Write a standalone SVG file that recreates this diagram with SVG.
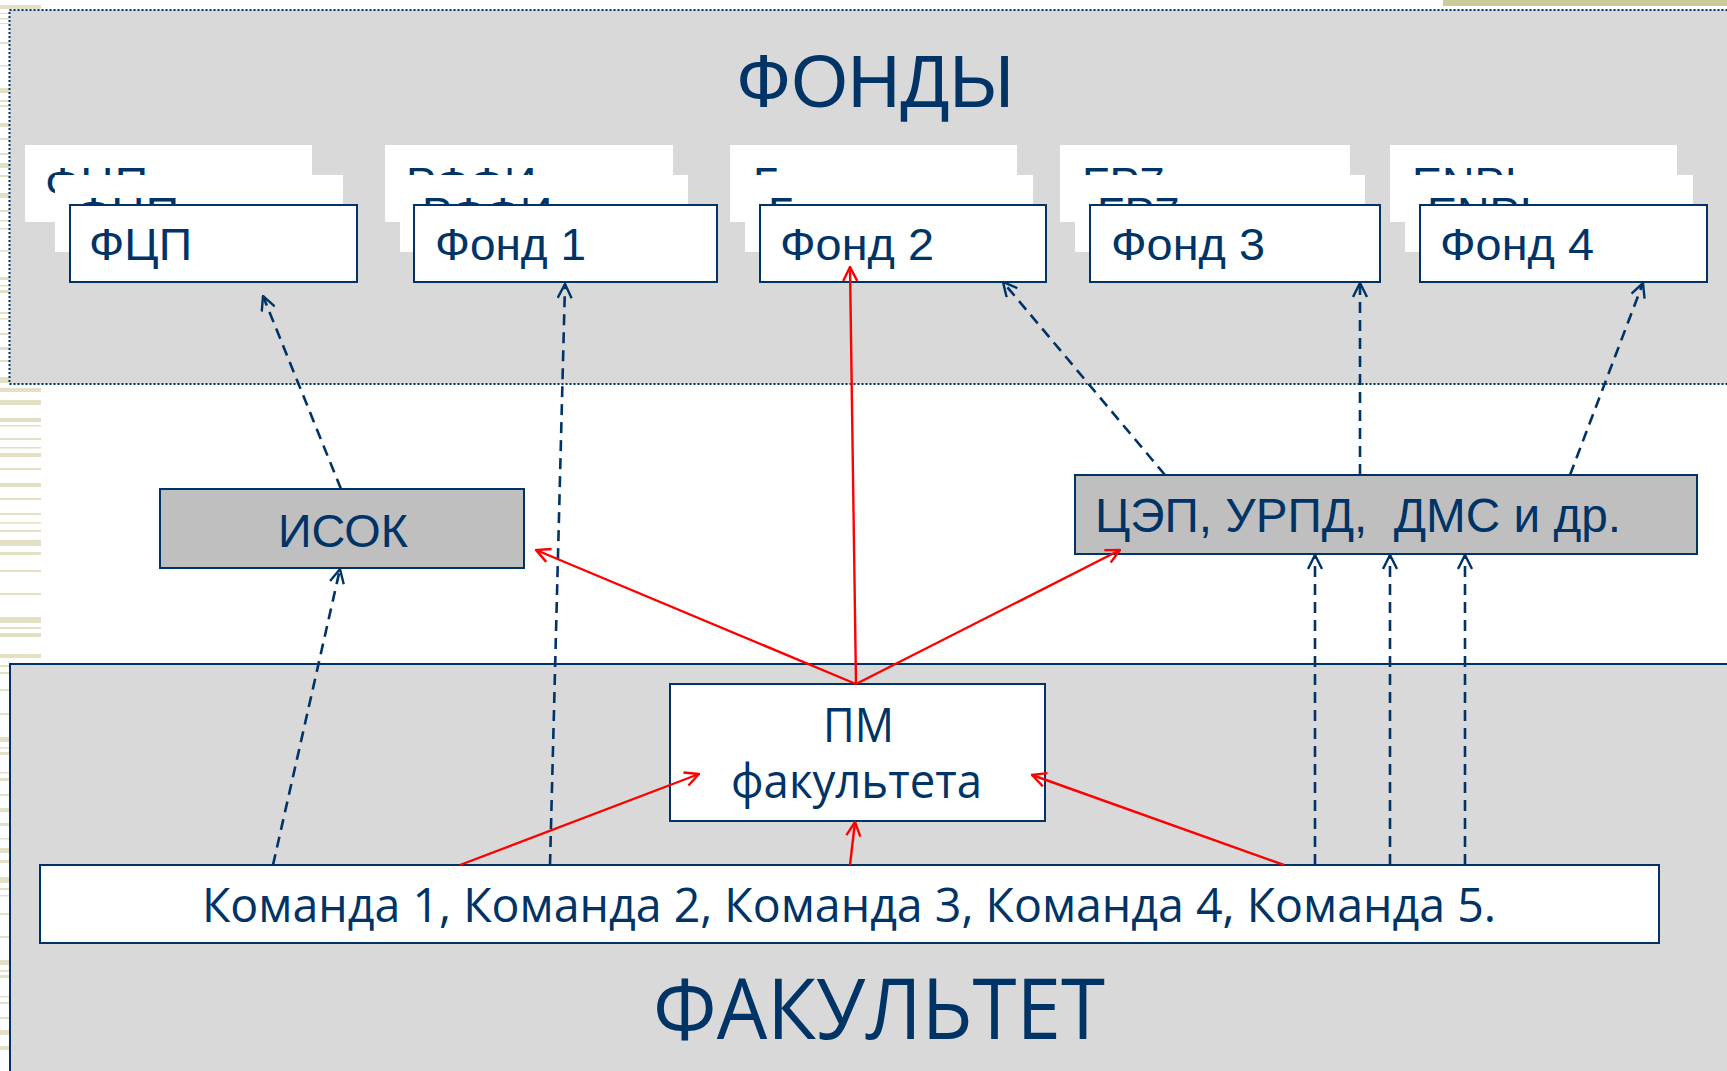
<svg xmlns="http://www.w3.org/2000/svg" width="1727" height="1071" viewBox="0 0 1727 1071">
<style>
.bg{fill:#D9D9D9}
.box{fill:#FFFFFF;stroke:#003366;stroke-width:2}
.ghost{fill:#FFFFFF}
.gbox{fill:#BFBFBF;stroke:#003366;stroke-width:2}
.t{font-family:"Liberation Sans",Arial,sans-serif;fill:#003366}
.o{font-family:"Open Sans","Noto Sans",sans-serif;fill:#003366}
.dash{fill:none;stroke:#003366;stroke-width:2.6;stroke-dasharray:11 7;marker-end:url(#an)}
.red{fill:none;stroke:#FF0000;stroke-width:2.4;marker-end:url(#ar)}
.st rect{fill:#E3E0C6}
</style>
<defs>
<marker id="an" viewBox="0 0 16 16" refX="15" refY="8" markerWidth="16" markerHeight="16" markerUnits="userSpaceOnUse" orient="auto">
<path d="M1,1 L15,8 L1,15" fill="none" stroke="#003366" stroke-width="2.4"/>
</marker>
<marker id="ar" viewBox="0 0 16 16" refX="15" refY="8" markerWidth="16" markerHeight="16" markerUnits="userSpaceOnUse" orient="auto">
<path d="M1,1 L15,8 L1,15" fill="none" stroke="#FF0000" stroke-width="2.4"/>
</marker>
</defs>
<rect width="1727" height="1071" fill="#FFFFFF"/>
<g id="decor" class="st">
<rect x="1443" y="0" width="284" height="6" style="fill:#CCCB9A"/>
<rect x="0" y="5" width="41" height="4"/>
<rect x="0" y="13" width="41" height="1"/><rect x="0" y="18" width="41" height="1.5"/><rect x="0" y="23" width="41" height="1"/>
<rect x="0" y="42" width="41" height="2"/><rect x="0" y="65" width="41" height="1.5"/><rect x="0" y="88" width="41" height="5"/>
<rect x="0" y="100" width="41" height="2"/><rect x="0" y="105" width="41" height="2"/><rect x="0" y="123" width="41" height="4"/>
<rect x="0" y="138" width="41" height="2"/><rect x="0" y="153" width="41" height="2"/><rect x="0" y="163" width="41" height="5"/>
<rect x="0" y="175" width="41" height="2"/><rect x="0" y="193" width="41" height="5"/><rect x="0" y="210" width="41" height="2"/>
<rect x="0" y="220" width="41" height="1.5"/><rect x="0" y="228" width="41" height="1.5"/><rect x="0" y="250" width="41" height="1.5"/>
<rect x="0" y="277" width="41" height="3"/><rect x="0" y="285" width="41" height="1.5"/><rect x="0" y="290" width="41" height="3"/>
<rect x="0" y="312" width="41" height="2"/><rect x="0" y="318" width="41" height="1.5"/><rect x="0" y="333" width="41" height="2"/>
<rect x="0" y="347" width="41" height="3"/><rect x="0" y="360" width="41" height="2"/><rect x="0" y="377" width="41" height="6"/>
<rect x="0" y="388" width="41" height="4"/><rect x="0" y="400" width="41" height="5"/><rect x="0" y="418" width="41" height="4"/>
<rect x="0" y="425" width="41" height="1.5"/><rect x="0" y="438" width="41" height="2"/><rect x="0" y="447" width="41" height="1.5"/>
<rect x="0" y="453" width="41" height="4"/><rect x="0" y="468" width="41" height="2"/><rect x="0" y="483" width="41" height="4"/>
<rect x="0" y="498" width="41" height="2"/><rect x="0" y="513" width="41" height="2"/><rect x="0" y="522" width="41" height="1.5"/>
<rect x="0" y="530" width="41" height="2"/><rect x="0" y="540" width="41" height="6"/><rect x="0" y="552" width="41" height="3"/>
<rect x="0" y="570" width="41" height="2"/><rect x="0" y="593" width="41" height="2"/><rect x="0" y="617" width="41" height="6"/>
<rect x="0" y="627" width="41" height="2"/><rect x="0" y="633" width="41" height="4"/><rect x="0" y="654" width="41" height="4"/>
<rect x="0" y="665" width="41" height="2"/><rect x="0" y="672" width="41" height="2"/><rect x="0" y="689" width="41" height="2"/>
<rect x="0" y="713" width="41" height="2"/><rect x="0" y="737" width="41" height="5"/><rect x="0" y="747" width="41" height="1.5"/>
<rect x="0" y="752" width="41" height="3"/><rect x="0" y="772" width="41" height="1.5"/><rect x="0" y="778" width="41" height="3"/>
<rect x="0" y="794" width="41" height="2"/><rect x="0" y="808" width="41" height="4"/><rect x="0" y="823" width="41" height="3"/>
<rect x="0" y="838" width="41" height="1.5"/><rect x="0" y="848" width="41" height="5"/><rect x="0" y="860" width="41" height="3"/>
<rect x="0" y="877" width="41" height="6"/><rect x="0" y="888" width="41" height="2"/><rect x="0" y="895" width="41" height="1.5"/>
<rect x="0" y="913" width="41" height="2"/><rect x="0" y="936" width="41" height="2"/><rect x="0" y="960" width="41" height="5"/>
<rect x="0" y="970" width="41" height="2"/><rect x="0" y="975" width="41" height="3"/><rect x="0" y="996" width="41" height="1.5"/>
<rect x="0" y="1002" width="41" height="2"/><rect x="0" y="1017" width="41" height="2"/><rect x="0" y="1030" width="41" height="5"/>
<rect x="0" y="1046" width="41" height="4"/>
</g>
<g id="fondy-region">
<rect x="9.5" y="10" width="1730" height="374" class="bg" stroke="#003366" stroke-width="2" stroke-dasharray="2 2"/>
<text class="t" x="736" y="107" font-size="75" textLength="278" lengthAdjust="spacingAndGlyphs">ФОНДЫ</text>
</g>
<g id="fakultet-region">
<rect x="10" y="664" width="1730" height="420" class="bg" stroke="#003366" stroke-width="2"/>
<text class="o" x="653" y="1039" font-size="84" textLength="452" lengthAdjust="spacingAndGlyphs">ФАКУЛЬТЕТ</text>
</g>
<g id="fcp">
<rect x="25" y="145" width="287" height="77" class="ghost"/>
<text class="t" x="45" y="199" font-size="45" textLength="103" lengthAdjust="spacingAndGlyphs">ФЦП</text>
<rect x="55" y="175" width="288" height="77" class="ghost"/>
<text class="t" x="76" y="229" font-size="45" textLength="103" lengthAdjust="spacingAndGlyphs">ФЦП</text>
<rect x="70" y="205" width="287" height="77" class="box"/>
<text class="t" x="89" y="260" font-size="45" textLength="103" lengthAdjust="spacingAndGlyphs">ФЦП</text>
</g>
<g id="fond1">
<rect x="385" y="145" width="288" height="77" class="ghost"/>
<text class="t" x="406" y="199" font-size="45">РФФИ</text>
<rect x="400" y="175" width="288" height="77" class="ghost"/>
<text class="t" x="422" y="229" font-size="45">РФФИ</text>
<rect x="414" y="205" width="303" height="77" class="box"/>
<text class="t" x="435" y="260" font-size="45" textLength="151" lengthAdjust="spacingAndGlyphs">Фонд 1</text>
</g>
<g id="fond2">
<rect x="730" y="145" width="287" height="77" class="ghost"/>
<text class="t" x="753" y="199" font-size="45">Гранты</text>
<rect x="745" y="175" width="288" height="77" class="ghost"/>
<text class="t" x="768" y="229" font-size="45">Гранты</text>
<rect x="760" y="205" width="286" height="77" class="box"/>
<text class="t" x="780" y="260" font-size="45" textLength="154" lengthAdjust="spacingAndGlyphs">Фонд 2</text>
</g>
<g id="fond3">
<rect x="1060" y="145" width="290" height="77" class="ghost"/>
<text class="t" x="1082" y="199" font-size="45">FP7</text>
<rect x="1075" y="175" width="290" height="77" class="ghost"/>
<text class="t" x="1097" y="229" font-size="45">FP7</text>
<rect x="1090" y="205" width="290" height="77" class="box"/>
<text class="t" x="1111" y="260" font-size="45" textLength="154" lengthAdjust="spacingAndGlyphs">Фонд 3</text>
</g>
<g id="fond4">
<rect x="1390" y="145" width="287" height="77" class="ghost"/>
<text class="t" x="1412" y="199" font-size="45">ENPI</text>
<rect x="1405" y="175" width="288" height="77" class="ghost"/>
<text class="t" x="1427" y="229" font-size="45">ENPI</text>
<rect x="1420" y="205" width="287" height="77" class="box"/>
<text class="t" x="1440" y="260" font-size="45" textLength="154" lengthAdjust="spacingAndGlyphs">Фонд 4</text>
</g>
<g id="isok">
<rect x="160" y="489" width="364" height="79" class="gbox"/>
<text class="t" x="278" y="547" font-size="47" textLength="130" lengthAdjust="spacingAndGlyphs">ИСОК</text>
</g>
<g id="cep">
<rect x="1075" y="475" width="622" height="79" class="gbox"/>
<text class="t" x="1095" y="532" font-size="48" textLength="526" lengthAdjust="spacingAndGlyphs" xml:space="preserve">ЦЭП, УРПД,  ДМС и др.</text>
</g>
<g id="pm">
<rect x="670" y="684" width="375" height="137" class="box"/>
<text class="o" x="823" y="742" font-size="47" textLength="71" lengthAdjust="spacingAndGlyphs">ПМ</text>
<text class="o" x="731" y="798" font-size="47" textLength="251" lengthAdjust="spacingAndGlyphs">факультета</text>
</g>
<g id="komandy">
<rect x="40" y="865" width="1619" height="78" class="box"/>
<text class="o" x="202" y="922" font-size="47" textLength="1294" lengthAdjust="spacingAndGlyphs">Команда 1, Команда 2, Команда 3, Команда 4, Команда 5.</text>
</g>
<g id="connectors">
<line x1="341" y1="489" x2="263" y2="296" class="dash"/>
<line x1="273" y1="865" x2="340" y2="569" class="dash"/>
<line x1="550" y1="865" x2="565" y2="284" class="dash"/>
<line x1="1165" y1="475" x2="1003" y2="282" class="dash"/>
<line x1="1360" y1="475" x2="1360" y2="283" class="dash"/>
<line x1="1570" y1="475" x2="1643" y2="283" class="dash"/>
<line x1="1315" y1="865" x2="1315" y2="555" class="dash"/>
<line x1="1390" y1="865" x2="1390" y2="555" class="dash"/>
<line x1="1465" y1="865" x2="1465" y2="555" class="dash"/>
<line x1="856" y1="684" x2="850" y2="267" class="red"/>
<line x1="856" y1="684" x2="536" y2="550" class="red"/>
<line x1="856" y1="684" x2="1120" y2="550" class="red"/>
<line x1="460" y1="865" x2="699" y2="774" class="red"/>
<line x1="850" y1="865" x2="855" y2="822" class="red"/>
<line x1="1284" y1="865" x2="1032" y2="775" class="red"/>
</g>
</svg>
